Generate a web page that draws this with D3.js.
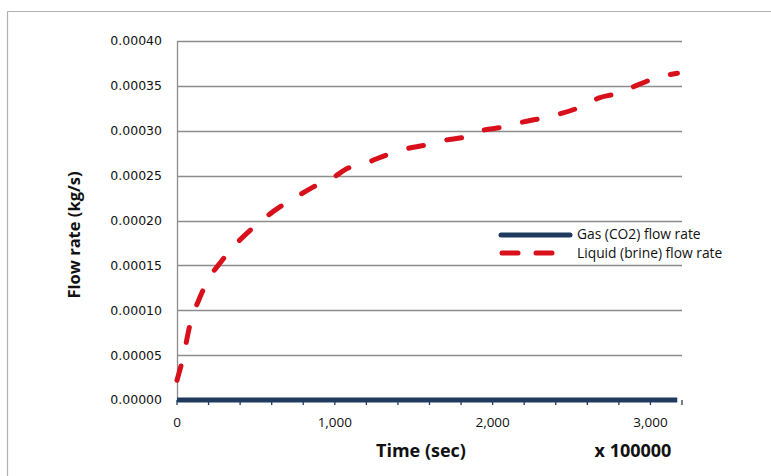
<!DOCTYPE html>
<html><head><meta charset="utf-8">
<script src="https://cdn.jsdelivr.net/npm/d3@7"></script>
<style>body{margin:0;background:#fff;}svg{display:block;}</style>
</head><body>
<script>
const gasTime = [0, 3170];
const gasFlow = [0, 0];
const liquidTime = [0, 38, 82, 146, 203, 273, 355, 444, 539, 640, 755, 862, 983, 1084, 1211, 1325, 1446, 1573, 1699, 1820, 1940, 2067, 2188, 2314, 2441, 2555, 2670, 2796, 2917, 3031, 3171];
const liquidFlow = [0.000022, 0.0000468, 0.0000835, 0.0001147, 0.0001359, 0.0001526, 0.0001704, 0.000186, 0.0002004, 0.0002138, 0.0002261, 0.0002372, 0.0002472, 0.0002584, 0.000265, 0.0002728, 0.0002795, 0.000284, 0.0002895, 0.0002929, 0.0003007, 0.000304, 0.0003096, 0.000314, 0.0003196, 0.0003263, 0.0003363, 0.0003419, 0.0003508, 0.0003586, 0.0003641];
const yTicks = [0, 0.00005, 0.0001, 0.00015, 0.0002, 0.00025, 0.0003, 0.00035, 0.0004];
const xLabelTicks = [0, 1000, 2000, 3000];
const xMinorTicks = d3.range(0, 3201, 200);
const seriesNames = ["Gas (CO2) flow rate", "Liquid (brine) flow rate"];

const W = 771, H = 476;
const svg = d3.select("body").append("svg").attr("width", W).attr("height", H);
const font = "'Open Sans', 'Liberation Sans', sans-serif";
const tickFont = "'DejaVu Sans', Verdana, sans-serif";

// outer frame (left & top visible)
svg.append("line").attr("x1", 7.5).attr("x2", W).attr("y1", 11.5).attr("y2", 11.5).attr("stroke", "#b0b0b0").attr("stroke-width", 1.2);
svg.append("line").attr("x1", 7.5).attr("x2", 7.5).attr("y1", 11.5).attr("y2", H).attr("stroke", "#b0b0b0").attr("stroke-width", 1.2);

const x = d3.scaleLinear().domain([0, 3200]).range([177, 682]);
const y = d3.scaleLinear().domain([0, 0.0004]).range([400, 41]);

// gridlines
svg.append("g").selectAll("line").data(yTicks.slice(1)).join("line")
  .attr("x1", 177).attr("x2", 682)
  .attr("y1", d => Math.round(y(d)) + 0.5).attr("y2", d => Math.round(y(d)) + 0.5)
  .attr("stroke", "#8c8c8c").attr("stroke-width", 1.3);

// y axis line
svg.append("line").attr("x1", 177.5).attr("x2", 177.5).attr("y1", 41).attr("y2", 400)
  .attr("stroke", "#8c8c8c").attr("stroke-width", 1.3);

// y tick labels
svg.append("g").selectAll("text").data(yTicks).join("text")
  .attr("x", 162).attr("y", d => y(d)).attr("dy", "0.35em")
  .attr("text-anchor", "end").attr("font-family", tickFont).attr("font-size", 12.5).attr("fill", "#111")
  .text(d => d.toFixed(5));

// x axis (minor ticks)
svg.append("g").selectAll("line").data(xMinorTicks).join("line")
  .attr("x1", d => x(d)).attr("x2", d => x(d)).attr("y1", 400).attr("y2", 405)
  .attr("stroke", "#1f3a5f").attr("stroke-width", 1.3);

// x tick labels
svg.append("g").selectAll("text").data(xLabelTicks).join("text")
  .attr("x", d => x(d)).attr("y", 422).attr("dy", "0.35em")
  .attr("text-anchor", "middle").attr("font-family", font).attr("font-size", 13.5).attr("fill", "#111")
  .text(d => d3.format(",")(d));

const line = d3.line().x(d => x(d[0])).y(d => y(d[1]));

// gas line
svg.append("path").datum(gasTime.map((t, i) => [t, gasFlow[i]]))
  .attr("d", line).attr("fill", "none").attr("stroke", "#1f3a5f").attr("stroke-width", 5);

// liquid line
svg.append("path").datum(liquidTime.map((t, i) => [t, liquidFlow[i]]))
  .attr("d", d3.line().curve(d3.curveMonotoneX).x(d => x(d[0])).y(d => y(d[1])))
  .attr("fill", "none").attr("stroke", "#d7101b").attr("stroke-width", 5)
  .attr("stroke-dasharray", "15,24").attr("stroke-linecap", "round");

// legend
const lg = svg.append("g");
lg.append("line").attr("x1", 501).attr("x2", 570).attr("y1", 235).attr("y2", 235)
  .attr("stroke", "#1f3a5f").attr("stroke-width", 5).attr("stroke-linecap", "round");
lg.append("line").attr("x1", 502).attr("x2", 556).attr("y1", 253).attr("y2", 253)
  .attr("stroke", "#d7101b").attr("stroke-width", 5).attr("stroke-linecap", "round")
  .attr("stroke-dasharray", "16,18");
lg.selectAll("text").data(seriesNames).join("text")
  .attr("x", 577).attr("y", (d, i) => 234 + i * 19).attr("dy", "0.35em")
  .attr("font-family", font).attr("font-size", 13.8).attr("fill", "#111")
  .text(d => d);

// axis titles
svg.append("text").attr("transform", "translate(74,235) rotate(-90)")
  .attr("text-anchor", "middle").attr("dy", "0.35em")
  .attr("font-family", font).attr("font-size", 16.5).attr("font-weight", "bold").attr("fill", "#111")
  .text("Flow rate (kg/s)");
svg.append("text").attr("x", 421).attr("y", 451).attr("dy", "0.35em")
  .attr("text-anchor", "middle")
  .attr("font-family", font).attr("font-size", 18).attr("font-weight", "bold").attr("fill", "#111")
  .text("Time (sec)");
svg.append("text").attr("x", 633).attr("y", 451).attr("dy", "0.35em")
  .attr("text-anchor", "middle")
  .attr("font-family", font).attr("font-size", 18).attr("font-weight", "bold").attr("fill", "#111")
  .text("x 100000");
</script>
</body></html>
